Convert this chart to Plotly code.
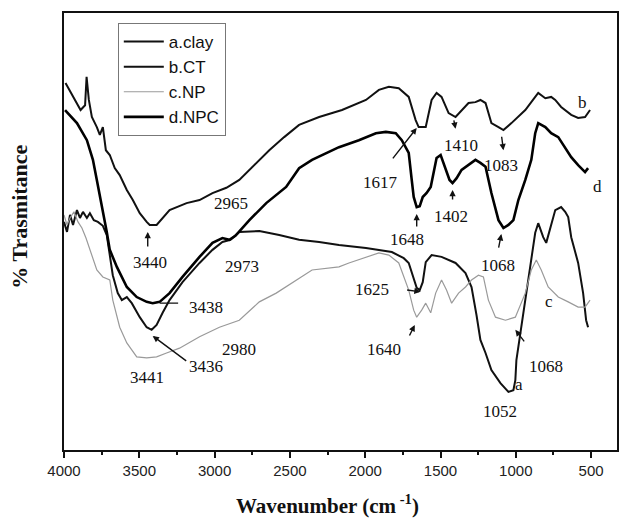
import plotly.graph_objects as go

# ---- data: wavenumber (cm-1) and relative % transmittance ----
b_wn = [3990, 3940, 3890, 3860, 3850, 3835, 3815, 3782, 3762, 3742, 3722, 3696, 3663, 3630, 3583, 3543,
        3497, 3451, 3431, 3385, 3345, 3299, 3186, 3100, 3014, 2922, 2836, 2750, 2637, 2538, 2439, 2306,
        2154, 1995, 1909, 1843, 1777, 1711, 1665, 1645, 1598, 1559, 1526, 1493, 1446, 1400, 1360, 1314,
        1268, 1235, 1201, 1162, 1115, 1082, 1029, 937, 871, 851, 804, 765, 738, 699, 632, 586, 540, 507]
b_T = [84.0, 80.8, 77.8, 78.9, 85.4, 80.1, 76.2, 73.9, 72.1, 73.9, 68.6, 67.5, 64.5, 62.9, 59.5, 57.2,
       54.2, 52.2, 51.5, 51.5, 53.1, 54.9, 56.5, 57.2, 58.8, 60.0, 61.8, 64.8, 68.6, 71.6, 74.4, 76.2,
       77.8, 80.1, 82.4, 83.1, 82.8, 80.8, 75.5, 73.9, 73.9, 80.1, 81.7, 80.8, 77.1, 76.2, 77.8, 79.4,
       79.6, 80.1, 79.4, 74.8, 73.9, 73.2, 74.8, 77.8, 80.8, 81.7, 80.5, 80.8, 80.1, 78.5, 76.7, 76.0, 76.2, 77.8]

d_wn = [3993, 3914, 3848, 3808, 3782, 3742, 3716, 3696, 3649, 3583, 3517, 3451, 3411, 3365, 3299, 3213,
        3100, 3014, 2948, 2902, 2862, 2769, 2657, 2525, 2439, 2353, 2174, 2042, 1929, 1863, 1797, 1757,
        1711, 1691, 1678, 1658, 1638, 1618, 1592, 1565, 1546, 1526, 1499, 1466, 1440, 1420, 1393, 1360,
        1314, 1268, 1235, 1201, 1162, 1115, 1082, 1049, 1016, 983, 937, 897, 871, 851, 804, 765, 718,
        672, 632, 586, 540, 520]
d_T = [77.8, 74.8, 70.9, 66.4, 61.8, 54.9, 49.9, 45.8, 41.9, 37.3, 35.0, 33.9, 33.6, 33.9, 35.9, 39.6,
       44.2, 47.4, 48.5, 48.1, 49.0, 52.6, 56.5, 60.2, 64.5, 66.4, 69.3, 70.9, 72.5, 72.8, 72.5, 70.9,
       68.0, 61.8, 57.9, 55.6, 55.8, 57.9, 58.8, 60.2, 63.4, 66.8, 67.5, 64.5, 61.8, 61.1, 62.2, 64.1,
       65.2, 66.4, 65.7, 64.8, 58.8, 52.6, 50.8, 51.5, 52.6, 57.2, 61.8, 66.4, 72.5, 74.8, 73.9, 72.5, 71.6,
       69.3, 67.0, 65.2, 63.6, 64.5]

a_wn = [4000, 3980, 3960, 3940, 3914, 3894, 3874, 3848, 3828, 3802, 3775, 3742, 3716, 3696, 3676, 3643,
        3616, 3583, 3550, 3497, 3451, 3418, 3385, 3345, 3299, 3213, 3100, 3014, 2948, 2895, 2836, 2703,
        2571, 2439, 2306, 2174, 1995, 1823, 1744, 1711, 1678, 1658, 1638, 1618, 1598, 1559, 1493, 1400,
        1334, 1294, 1261, 1235, 1201, 1162, 1102, 1049, 1016, 1003, 996, 970, 950, 930, 897, 871, 851,
        818, 798, 771, 738, 699, 672, 652, 632, 586, 553, 533, 520]
a_T = [52.2, 49.9, 53.8, 51.5, 54.9, 53.1, 54.5, 53.1, 54.2, 52.6, 52.2, 51.3, 49.2, 44.6, 40.0, 35.9,
       34.3, 35.0, 33.6, 30.4, 28.1, 27.5, 28.6, 31.4, 34.3, 38.4, 42.8, 45.8, 47.6, 48.1, 49.9, 50.1,
       49.2, 48.1, 47.6, 46.9, 46.2, 45.3, 43.9, 42.8, 38.9, 37.1, 36.6, 38.4, 43.0, 44.6, 44.2, 42.8,
       40.5, 37.3, 30.9, 25.2, 22.2, 18.3, 15.3, 13.3, 13.7, 16.0, 20.6, 26.8, 32.0, 35.9, 43.5, 49.7, 51.9,
       48.7, 47.4, 51.0, 54.9, 55.6, 54.5, 53.3, 48.7, 42.8, 35.9, 29.7, 28.1]

c_wn = [4000, 3980, 3960, 3934, 3907, 3881, 3854, 3828, 3782, 3742, 3696, 3676, 3630, 3583, 3517, 3451,
        3385, 3319, 3233, 3100, 2968, 2836, 2750, 2703, 2591, 2485, 2353, 2174, 2108, 1909, 1843, 1777,
        1711, 1678, 1658, 1625, 1598, 1565, 1532, 1493, 1460, 1426, 1380, 1334, 1294, 1248, 1215, 1182,
        1135, 1069, 1003, 937, 897, 864, 831, 785, 718, 652, 586, 540, 507]
c_T = [53.8, 51.5, 53.1, 54.5, 52.2, 50.8, 48.5, 45.8, 41.2, 39.6, 38.9, 34.3, 28.1, 24.5, 21.3, 21.1,
       21.3, 22.2, 23.3, 25.9, 28.1, 29.7, 32.5, 33.9, 35.9, 38.2, 41.2, 41.9, 42.8, 45.1, 44.6, 42.8,
       36.6, 32.0, 30.4, 32.0, 33.6, 31.4, 35.9, 38.9, 36.6, 33.6, 35.9, 37.3, 38.9, 40.0, 39.6, 34.3,
       30.4, 29.7, 30.4, 35.9, 41.2, 43.5, 41.2, 37.3, 35.0, 33.9, 32.7, 32.7, 34.3]

x_ticks = [4000, 3500, 3000, 2500, 2000, 1500, 1000, 500]

# peak labels: (text, wavenumber, T)
peak_labels = [
    ("3440", 3431, 42.8), ("2965", 2889, 56.5), ("2973", 2816, 42.1), ("3438", 3054, 32.5),
    ("3436", 3054, 19.0), ("3441", 3451, 16.5), ("2980", 2836, 22.9), ("1617", 1896, 61.3),
    ("1410", 1367, 69.6), ("1083", 1096, 65.0), ("1402", 1433, 53.5), ("1648", 1724, 48.1),
    ("1068", 1115, 42.3), ("1625", 1956, 36.8), ("1640", 1876, 23.1), ("1068", 798, 19.0),
    ("1052", 1102, 8.7), ("a", 976, 15.1), ("b", 560, 79.6), ("c", 778, 33.9), ("d", 460, 60.2),
]
# arrows: (head wavenumber, head T, ax px, ay px, arrowhead)
arrows = [
    (3444, 49.9, 0, 16, 2), (1658, 73.7, -25, 32, 2), (1400, 73.5, -2, -10, 2), (1082, 68.6, -2, -15, 2),
    (1658, 54.0, 0, 14, 2), (1420, 59.5, 0, 11, 2), (1096, 49.4, -3, 15, 2), (1632, 36.2, -15, -2, 2),
    (1671, 28.6, -6, 12, 2), (3411, 26.1, 35, 26, 2), (3365, 33.6, 20, 0, 0), (1003, 27.5, 10, 13, 2),
]

serif = "Liberation Serif"
fig = go.Figure()
fig.add_trace(go.Scatter(x=a_wn, y=a_T, mode="lines", name="a.clay",
                         line=dict(color="#111111", width=2)))
fig.add_trace(go.Scatter(x=b_wn, y=b_T, mode="lines", name="b.CT",
                         line=dict(color="#111111", width=2)))
fig.add_trace(go.Scatter(x=c_wn, y=c_T, mode="lines", name="c.NP",
                         line=dict(color="#9a9a9a", width=1.2)))
fig.add_trace(go.Scatter(x=d_wn, y=d_T, mode="lines", name="d.NPC",
                         line=dict(color="#000000", width=2.6)))

ann = []
for t, x, y in peak_labels:
    ann.append(dict(x=x, y=y, text=t, showarrow=False, xref="x", yref="y",
                    font=dict(family=serif, size=17, color="#111")))
for x, y, ax, ay, ah in arrows:
    ann.append(dict(x=x, y=y, text="", showarrow=True, ax=ax, ay=ay, arrowhead=ah,
                    arrowsize=0.9, arrowwidth=1.4, arrowcolor="#111", xref="x", yref="y"))
ann.append(dict(x=(328 - 64) / 555, y=-(505 - 450) / 437, xref="paper", yref="paper",
                xanchor="center", yanchor="middle", showarrow=False,
                text="<b>Wavenumber (cm<sup> -1</sup>)</b>",
                font=dict(family=serif, size=21, color="#111")))
ann.append(dict(x=-0.082, y=(450 - 217) / 437, xref="paper", yref="paper", showarrow=False,
                xanchor="center", yanchor="middle",
                text="<b>% Trasmitance</b>", textangle=-90,
                font=dict(family=serif, size=22, color="#111")))

fig.update_layout(
    width=620, height=519,
    margin=dict(l=64, r=1, t=13, b=69),
    paper_bgcolor="white", plot_bgcolor="white",
    showlegend=True,
    legend=dict(x=(118 - 64) / 555, y=(450 - 23) / 437, xanchor="left", yanchor="top",
                bordercolor="#777", borderwidth=1, bgcolor="rgba(255,255,255,0)",
                font=dict(family="Liberation Sans", size=17, color="#111"),
                tracegroupgap=0, itemwidth=40),
    annotations=ann,
    xaxis=dict(range=[4000, 328], tickvals=x_ticks, ticktext=[str(v) for v in x_ticks],
               showgrid=False, zeroline=False, showline=True, mirror=True, linecolor="#111",
               linewidth=2, ticks="outside", ticklen=6, tickwidth=1.5, tickcolor="#111",
               tickfont=dict(family="Liberation Sans", size=15, color="#222"),
               minor=dict(tickvals=[3750, 3250, 2750, 2250, 1750, 1250, 750], ticks="outside",
                          ticklen=3, tickcolor="#111")),
    yaxis=dict(range=[0, 100], showticklabels=False, showgrid=False, zeroline=False,
               showline=True, mirror=True, linecolor="#111", linewidth=2, ticks=""),
)
fig.write_html("out.html")
